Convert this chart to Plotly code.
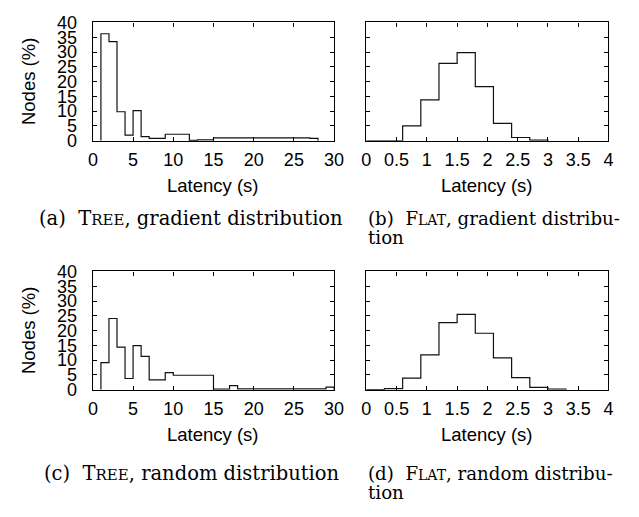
import plotly.graph_objects as go

# ---- data ----
# (a) TREE, gradient distribution : bin edges (s) and % of nodes
tree_grad_edges = [1, 2, 3, 4, 5, 6, 7, 8, 9, 10, 11, 12, 13, 14, 15, 16, 17, 18, 19, 20,
                   21, 22, 23, 24, 25, 26, 27, 28]
tree_grad_vals = [36.2, 33.5, 9.8, 1.9, 10.2, 1.4, 0.8, 0.8, 2.2, 2.2, 2.2, 0.1, 0.3, 0.3,
                  1.0, 1.0, 1.0, 1.0, 1.0, 1.0, 1.0, 1.0, 1.0, 1.0, 1.0, 1.0, 0.8]

# (b) FLAT, gradient distribution
flat_grad_edges = [0.0, 0.3, 0.6, 0.9, 1.2, 1.5, 1.8, 2.1, 2.4, 2.7, 3.0]
flat_grad_vals = [0.0, 0.0, 5.0, 13.8, 26.2, 29.8, 18.3, 5.9, 1.1, 0.2]

# (c) TREE, random distribution
tree_rand_edges = [1, 2, 3, 4, 5, 6, 7, 8, 9, 10, 11, 12, 13, 14, 15, 16, 17, 18, 19, 20,
                   21, 22, 23, 24, 25, 26, 27, 28, 29, 30]
tree_rand_vals = [9.2, 24.1, 14.4, 3.8, 14.9, 11.3, 3.3, 3.3, 5.8, 4.9, 4.9, 4.9, 4.9, 4.9,
                  0.2, 0.2, 1.4, 0.3, 0.3, 0.3, 0.3, 0.3, 0.3, 0.3, 0.3, 0.3, 0.3, 0.3, 0.9]

# (d) FLAT, random distribution
flat_rand_edges = [0.0, 0.3, 0.6, 0.9, 1.2, 1.5, 1.8, 2.1, 2.4, 2.7, 3.0, 3.3]
flat_rand_vals = [0.0, 0.4, 3.9, 11.8, 22.7, 25.5, 19.1, 10.8, 4.1, 0.8, 0.2]

tree_ticks = [0, 5, 10, 15, 20, 25, 30]
flat_ticks = [0, 0.5, 1, 1.5, 2, 2.5, 3, 3.5, 4]
flat_tick_text = ["0", "0.5", "1", "1.5", "2", "2.5", "3", "3.5", "4"]
y_ticks = [0, 5, 10, 15, 20, 25, 30, 35, 40]

captions = [
    ("(a)  T<span style='font-size:15px'>REE</span>, gradient distribution", None),
    ("(b)  F<span style='font-size:14px'>LAT</span>, gradient distribu-", "tion"),
    ("(c)  T<span style='font-size:15px'>REE</span>, random distribution", None),
    ("(d)  F<span style='font-size:14px'>LAT</span>, random distribu-", "tion"),
]

W, H = 639, 517
SANS = "Liberation Sans, Arial, sans-serif"
SERIF = "DejaVu Serif, serif"

# panel pixel boxes: (left, right, top, bottom)
boxes = [(90, 337, 13, 136), (370, 618, 13, 136), (90, 337, 272, 395), (370, 618, 272, 395)]


def step_xy(edges, vals):
    xs = [edges[0]] + list(edges)
    ys = [0] + list(vals) + [0]
    return xs, ys


fig = go.Figure()
series = [(tree_grad_edges, tree_grad_vals), (flat_grad_edges, flat_grad_vals),
          (tree_rand_edges, tree_rand_vals), (flat_rand_edges, flat_rand_vals)]
for i, (e, v) in enumerate(series):
    xs, ys = step_xy(e, v)
    sfx = "" if i == 0 else str(i + 1)
    fig.add_trace(go.Scatter(x=xs, y=ys, mode="lines", line=dict(shape="hv", color="#111", width=1.2),
                             xaxis="x" + sfx, yaxis="y" + sfx, showlegend=False, hoverinfo="skip"))

axis_common = dict(showline=True, linecolor="black", linewidth=1.3, mirror="ticks", ticks="inside",
                   ticklen=4, tickwidth=1, tickcolor="black", showgrid=False, zeroline=False,
                   tickfont=dict(family=SANS, size=18, color="black"))

layout = dict(width=W, height=H, margin=dict(l=0, r=0, t=0, b=0), paper_bgcolor="white",
              plot_bgcolor="white", showlegend=False)
for i, (l, r, t, b) in enumerate(boxes):
    sfx = "" if i == 0 else str(i + 1)
    is_tree = i in (0, 2)
    xa = dict(axis_common, domain=[l / W, r / W], anchor="y" + sfx, ticklabelstandoff=3)
    if is_tree:
        xa.update(range=[0, 30], tickvals=tree_ticks)
    else:
        xa.update(range=[0, 4], tickvals=flat_ticks, ticktext=flat_tick_text)
    ya = dict(axis_common, domain=[1 - b / H, 1 - t / H], anchor="x" + sfx, range=[0, 40],
              tickvals=y_ticks, showticklabels=is_tree, ticklabelstandoff=11)
    layout["xaxis" + sfx] = xa
    layout["yaxis" + sfx] = ya
fig.update_layout(**layout)

ann = []
for i, (l, r, t, b) in enumerate(boxes):
    ann.append(dict(text="Latency (s)", x=(l + r) / 2 / W, y=1 - (b + 47) / H, xref="paper", yref="paper",
                    showarrow=False, xanchor="center", yanchor="middle",
                    font=dict(family=SANS, size=18.5, color="black")))
    if i in (0, 2):
        ann.append(dict(text="Nodes (%)", x=24 / W, y=1 - (t + b) / 2 / H, xref="paper", yref="paper",
                        showarrow=False, textangle=-90, xanchor="center", yanchor="middle",
                        font=dict(family=SANS, size=18.5, color="black")))
cap_pos = [(33, 217), (370, 217), (38, 482), (370, 482)]
cap_size = [19.5, 18.2, 19.5, 18.2]
for (cx, cy), (l1, l2), fs in zip(cap_pos, captions, cap_size):
    ann.append(dict(text=l1, x=cx / W, y=1 - cy / H, xref="paper", yref="paper", showarrow=False,
                    xanchor="left", yanchor="middle", align="left",
                    font=dict(family=SERIF, size=fs, color="black")))
    if l2:
        ann.append(dict(text=l2, x=cx / W, y=1 - (cy + 20) / H, xref="paper", yref="paper",
                        showarrow=False, xanchor="left", yanchor="middle", align="left",
                        font=dict(family=SERIF, size=fs, color="black")))
fig.update_layout(annotations=ann)

fig.write_html("out.html")
